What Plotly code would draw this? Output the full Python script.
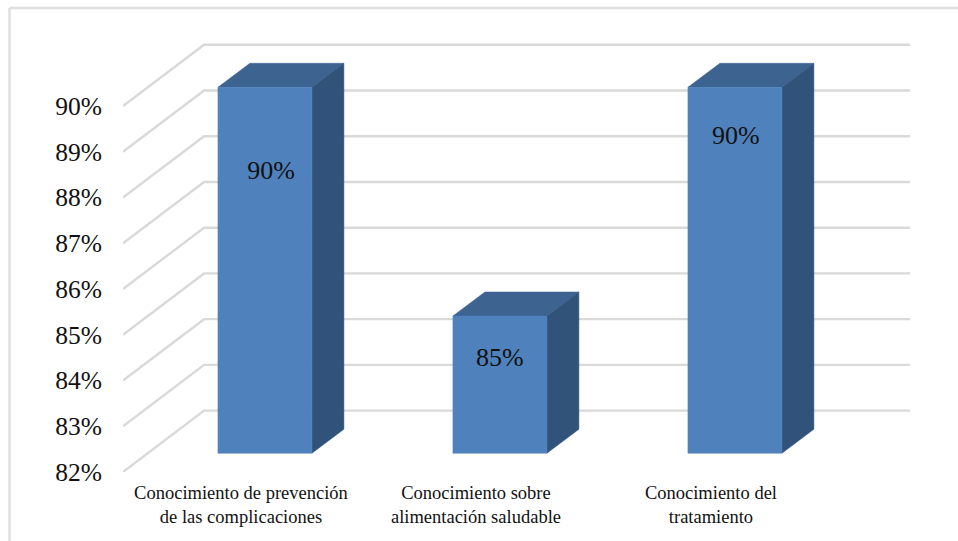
import plotly.graph_objects as go

categories = ["Conocimiento de prevención<br>de las complicaciones",
              "Conocimiento sobre<br>alimentación saludable",
              "Conocimiento del<br>tratamiento"]
values = [90, 85, 90]
value_labels = ["90%", "85%", "90%"]
label_drop = [1.45, 0.55, 0.69]
label_shift = [0.128, 0.102, 0.106]
y_ticks = [82, 83, 84, 85, 86, 87, 88, 89, 90]
y_tick_labels = ["82%", "83%", "84%", "85%", "86%", "87%", "88%", "89%", "90%"]

W, H = 958, 541
L, R, T, B = 123, 48, 35, 69
XMIN, XMAX = -0.502, 2.847
YMIN, YMAX = 82.0, 91.553
WALL_DX, WALL_DY = 0.345, 1.341      # depth of the side wall
BAR_CX, BAR_HW = 0.102, 0.2          # bar centre shift and half width
BAR_LIFT = 0.41                      # front of bars sits in front of the wall
BAR_DX, BAR_DY = 0.136, 0.525        # depth of a bar

FRONT, TOP, SIDE = "#4f81bd", "#3d6390", "#325379"
GRID = "#d9d9d9"
FONT = "Liberation Serif"

fig = go.Figure()


def poly(xs, ys, color):
    fig.add_trace(go.Scatter(x=xs + xs[:1], y=ys + ys[:1], mode="lines", fill="toself",
                             fillcolor=color, line=dict(color=color, width=0.5),
                             hoverinfo="skip", showlegend=False))


for t in y_ticks:
    fig.add_trace(go.Scatter(x=[XMIN, XMIN + WALL_DX, XMAX], y=[t, t + WALL_DY, t + WALL_DY],
                             mode="lines", line=dict(color=GRID, width=2.4),
                             cliponaxis=False, hoverinfo="skip", showlegend=False))

for i, v in enumerate(values):
    x0 = i + BAR_CX - BAR_HW
    x1 = i + BAR_CX + BAR_HW
    y0 = YMIN + BAR_LIFT
    y1 = v + BAR_LIFT
    poly([x0, x1, x1 + BAR_DX, x0 + BAR_DX], [y1, y1, y1 + BAR_DY, y1 + BAR_DY], TOP)
    poly([x1, x1 + BAR_DX, x1 + BAR_DX, x1], [y0, y0 + BAR_DY, y1 + BAR_DY, y1], SIDE)
    poly([x0, x1, x1, x0], [y0, y0, y1, y1], FRONT)

fig.add_trace(go.Scatter(
    x=[i + s for i, s in enumerate(label_shift)],
    y=[v - d for v, d in zip(values, label_drop)],
    mode="text", text=value_labels, textposition="middle center",
    textfont=dict(family=FONT, size=26, color="#111111"),
    hoverinfo="skip", showlegend=False))

plot_w = W - L - R
plot_h = H - T - B
edge = dict(color="#dfdfdf", width=2.5)
fig.update_layout(
    width=W, height=H,
    margin=dict(l=L, r=R, t=T, b=B, pad=0),
    paper_bgcolor="white", plot_bgcolor="white",
    showlegend=False,
    xaxis=dict(range=[XMIN, XMAX], tickmode="array", tickvals=[0, 1, 2], ticktext=categories,
               showgrid=False, zeroline=False, showline=False,
               ticks="outside", ticklen=4, tickcolor="rgba(0,0,0,0)",
               tickfont=dict(family=FONT, size=18.5, color="#111111")),
    yaxis=dict(range=[YMIN, YMAX], tickmode="array", tickvals=y_ticks, ticktext=y_tick_labels,
               showgrid=False, zeroline=False, showline=False,
               ticks="outside", ticklen=15, tickcolor="rgba(0,0,0,0)",
               tickfont=dict(family=FONT, size=25.5, color="#111111")),
    shapes=[
        dict(type="line", xref="paper", yref="paper", layer="below", line=edge,
             x0=(9.5 - L) / plot_w, x1=(9.5 - L) / plot_w,
             y0=(H - B - H) / plot_h, y1=(H - B - 8) / plot_h),
        dict(type="line", xref="paper", yref="paper", layer="below", line=edge,
             x0=(9.5 - L) / plot_w, x1=(W - L) / plot_w,
             y0=(H - B - 8) / plot_h, y1=(H - B - 8) / plot_h),
    ],
)

fig.write_html("out.html", config=dict(displayModeBar=False),
               post_script="document.body.style.margin='0';")
